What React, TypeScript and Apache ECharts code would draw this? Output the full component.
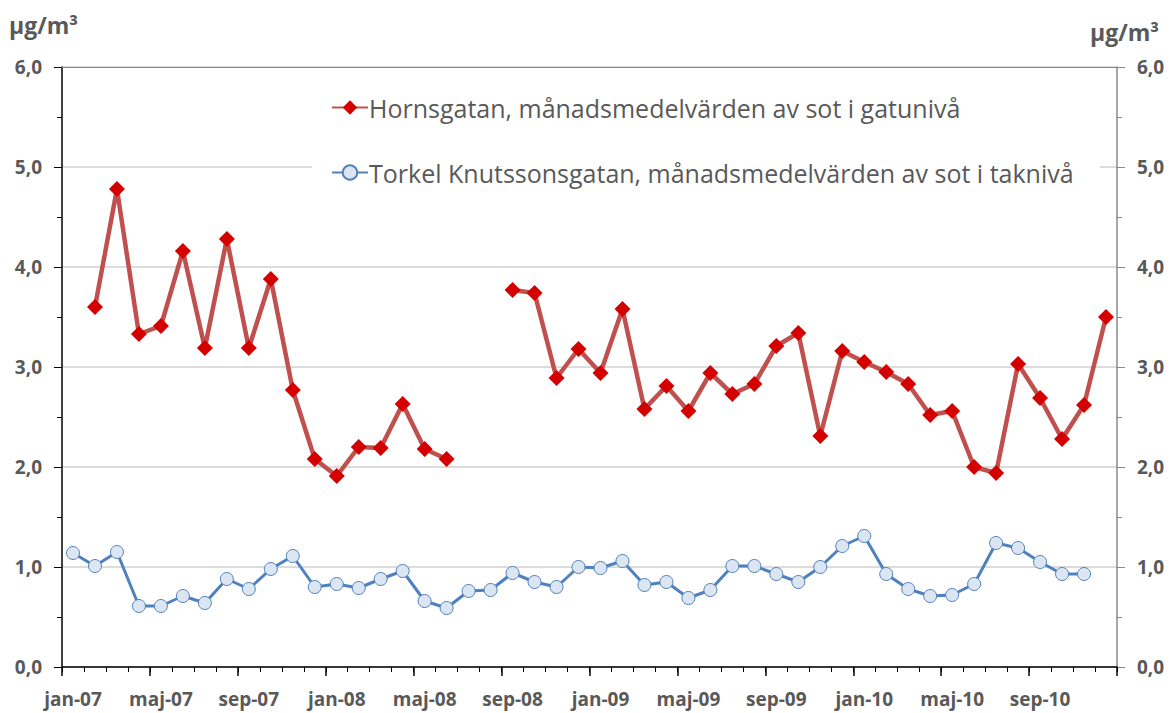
import React, { useEffect, useRef } from "react";
import * as echarts from "echarts";

const monthNames = ["jan", "feb", "mar", "apr", "maj", "jun", "jul", "aug", "sep", "okt", "nov", "dec"];
const years = ["07", "08", "09", "10"];
const categories: string[] = years.flatMap((y) => monthNames.map((m) => `${m}-${y}`));

const hornsgatanName = "Hornsgatan, månadsmedelvärden av sot i gatunivå";
const torkelName = "Torkel Knutssonsgatan, månadsmedelvärden av sot i taknivå";

// 2007
const horns2007 = [null, 3.6, 4.78, 3.33, 3.41, 4.16, 3.19, 4.28, 3.19, 3.88, 2.77, 2.08];
// 2008
const horns2008 = [1.91, 2.2, 2.19, 2.63, 2.18, 2.08, null, null, 3.77, 3.74, 2.89, 3.18];
// 2009
const horns2009 = [2.94, 3.58, 2.58, 2.81, 2.56, 2.94, 2.73, 2.83, 3.21, 3.34, 2.31, 3.16];
// 2010
const horns2010 = [3.05, 2.95, 2.83, 2.52, 2.56, 2.0, 1.94, 3.03, 2.69, 2.28, 2.62, 3.5];
const hornsgatan = [...horns2007, ...horns2008, ...horns2009, ...horns2010];

const torkel2007 = [1.14, 1.01, 1.15, 0.61, 0.61, 0.71, 0.64, 0.88, 0.78, 0.98, 1.11, 0.8];
const torkel2008 = [0.83, 0.79, 0.88, 0.96, 0.66, 0.59, 0.76, 0.77, 0.94, 0.85, 0.8, 1.0];
const torkel2009 = [0.99, 1.06, 0.82, 0.85, 0.69, 0.77, 1.01, 1.01, 0.93, 0.85, 1.0, 1.21];
const torkel2010 = [1.31, 0.93, 0.78, 0.71, 0.72, 0.83, 1.24, 1.19, 1.05, 0.93, 0.93, null];
const torkel = [...torkel2007, ...torkel2008, ...torkel2009, ...torkel2010];

const yMin = 0;
const yMax = 6;
const yInterval = 1;
const unitLabel = "µg/m³";

const GRAY_TEXT = "#595959";
const FONT = "'Open Sans', 'Noto Sans', sans-serif";

const fmt = (v: number) => v.toFixed(1).replace(".", ",");

export default function App() {
  const ref = useRef<HTMLDivElement>(null);

  useEffect(() => {
    if (!ref.current) return;
    const chart = echarts.init(ref.current, undefined, { renderer: "svg" });

    const yAxisBase = {
      type: "value",
      min: yMin,
      max: yMax,
      interval: yInterval,
      axisLabel: {
        formatter: fmt,
        color: GRAY_TEXT,
        fontSize: 19,
        fontWeight: "bold",
        fontFamily: FONT,
        margin: 20,
      },
    };

    chart.setOption({
      animation: false,
      backgroundColor: "#fff",
      textStyle: { fontFamily: FONT },
      grid: { left: 62, right: 53, top: 67, bottom: 46, containLabel: false },
      legend: {
        orient: "vertical",
        left: 312,
        top: 80,
        backgroundColor: "#fff",
        padding: [15, 26, 15, 19],
        itemWidth: 36,
        itemHeight: 18,
        itemGap: 40,
        textStyle: { fontSize: 25, color: GRAY_TEXT, fontFamily: FONT, padding: [0, 0, 0, -4] },
        data: [hornsgatanName, torkelName],
      },
      graphic: [
        {
          type: "text",
          left: 9,
          top: 13,
          style: { text: unitLabel, fill: GRAY_TEXT, font: `bold 23px ${FONT}` },
        },
        {
          type: "text",
          left: 1090,
          top: 20,
          style: { text: unitLabel, fill: GRAY_TEXT, font: `bold 23px ${FONT}` },
        },
      ],
      xAxis: [
        {
          type: "category",
          data: categories,
          boundaryGap: true,
          position: "bottom",
          axisLine: { show: true, lineStyle: { color: "#000", width: 1.5 } },
          axisTick: { show: true, interval: 3, length: 9, lineStyle: { color: "#000", width: 1.5 } },
          axisLabel: {
            interval: 3,
            color: GRAY_TEXT,
            fontSize: 19,
            fontWeight: "bold",
            fontFamily: FONT,
            margin: 22,
          },
          splitLine: { show: false },
          z: 3,
        },
        {
          type: "category",
          data: categories,
          boundaryGap: true,
          position: "bottom",
          axisLine: { show: false },
          axisTick: { show: true, interval: 0, length: 5, lineStyle: { color: "#000", width: 1 } },
          axisLabel: { show: false },
          splitLine: { show: false },
        },
        {
          type: "category",
          data: categories,
          boundaryGap: true,
          position: "top",
          axisLine: { show: true, lineStyle: { color: "#888", width: 1 } },
          axisTick: { show: false },
          axisLabel: { show: false },
          splitLine: { show: false },
          z: 3,
        },
      ],
      yAxis: [
        {
          ...yAxisBase,
          position: "left",
          axisLine: { show: true, lineStyle: { color: "#000", width: 1.5 } },
          axisTick: { show: true, length: 8, lineStyle: { color: "#000", width: 1 } },
          minorTick: { show: true, splitNumber: 2, length: 5, lineStyle: { color: "#000", width: 1 } },
          splitLine: { show: true, lineStyle: { color: "#D0D0D0", width: 1.5 } },
          minorSplitLine: { show: false },
        },
        {
          ...yAxisBase,
          position: "right",
          axisLine: { show: true, lineStyle: { color: "#888", width: 1.5 } },
          axisTick: { show: true, length: 8, lineStyle: { color: "#888", width: 1 } },
          minorTick: { show: true, splitNumber: 2, length: 5, lineStyle: { color: "#888", width: 1 } },
          splitLine: { show: false },
        },
      ],
      series: [
        {
          name: torkelName,
          type: "line",
          xAxisIndex: 0,
          yAxisIndex: 0,
          data: torkel,
          connectNulls: false,
          showAllSymbol: true,
          symbol: "circle",
          symbolSize: 13,
          lineStyle: { color: "#4F81BD", width: 3 },
          itemStyle: { color: "#DCE6F2", borderColor: "#4F81BD", borderWidth: 1 },
          z: 2,
        },
        {
          name: hornsgatanName,
          type: "line",
          xAxisIndex: 0,
          yAxisIndex: 0,
          data: hornsgatan,
          connectNulls: false,
          showAllSymbol: true,
          symbol: "diamond",
          symbolSize: 16,
          lineStyle: { color: "#C0504D", width: 4.5 },
          itemStyle: { color: "#D40000", borderWidth: 0 },
          z: 3,
        },
      ],
    });

    return () => chart.dispose();
  }, []);

  return (
    <div
      ref={ref}
      style={{ position: "fixed", left: 0, top: 0, width: 1170, height: 713, background: "#fff" }}
    />
  );
}
